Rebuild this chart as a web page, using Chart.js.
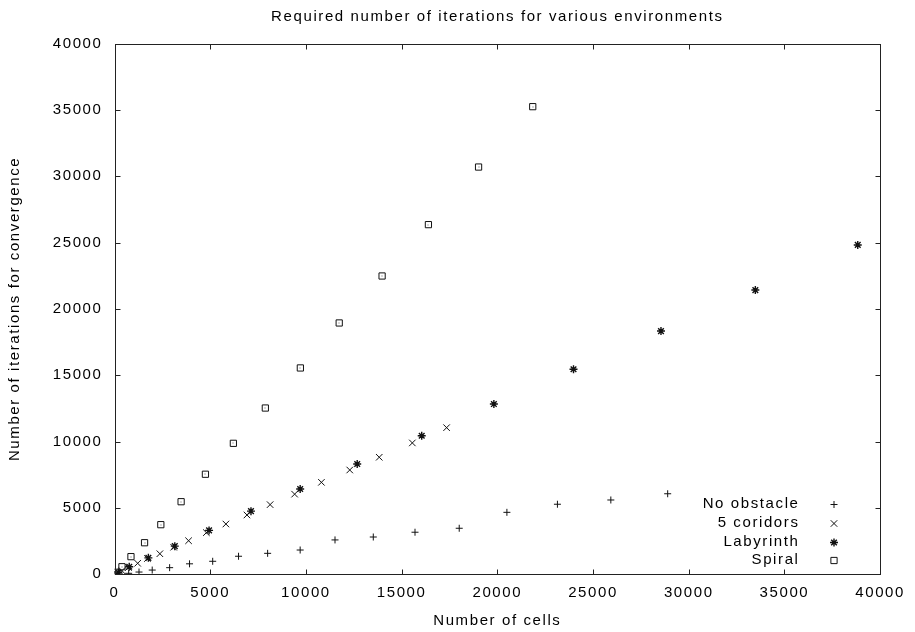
<!DOCTYPE html>
<html><head><meta charset="utf-8">
<script src="https://cdn.jsdelivr.net/npm/chart.js@4/dist/chart.umd.min.js"></script>
<style>html,body{margin:0;padding:0;background:#fff;overflow:hidden}#wrap{width:915px;height:632px;position:relative}</style>
</head><body><div id="wrap"><canvas id="c"></canvas></div>
<script>
const chartTitle = 'Required number of iterations for various environments';
const xTitle = 'Number of cells';
const yTitle = 'Number of iterations for convergence';
const seriesNames = ['No obstacle', '5 coridors', 'Labyrinth', 'Spiral'];

const noObstacleX = [250, 740, 1280, 1970, 2880, 3920, 5130, 6480, 8000, 9700, 11520, 13520, 15700, 18010, 20500, 23140, 25930, 28900];
const noObstacleY = [30, 75, 170, 320, 500, 790, 980, 1360, 1580, 1830, 2590, 2810, 3170, 3470, 4670, 5280, 5600, 6070];

const corridorsX = [100, 390, 730, 1210, 1720, 2370, 3090, 3870, 4800, 5820, 6920, 8130, 9410, 10810, 12290, 13830, 15560, 17350];
const corridorsY = [70, 270, 510, 830, 1190, 1550, 2040, 2530, 3140, 3790, 4470, 5250, 6040, 6930, 7860, 8820, 9900, 11050];

const labyrinthX = [60, 200, 770, 1770, 3150, 4940, 7130, 9700, 12680, 16050, 19820, 23980, 28550, 33480, 38830];
const labyrinthY = [50, 130, 570, 1240, 2120, 3310, 4760, 6430, 8310, 10440, 12830, 15450, 18330, 21420, 24820];

const spiralX = [90, 390, 860, 1570, 2420, 3480, 4750, 6210, 7880, 9710, 11740, 13980, 16400, 19020, 21850];
const spiralY = [150, 570, 1330, 2380, 3740, 5470, 7540, 9870, 12530, 15550, 18940, 22480, 26350, 30690, 35240];

const axisMin = 0, axisMax = 40000, tickStep = 5000;

const FAMILY = "'Liberation Sans', Arial, Helvetica, sans-serif";
const FONT = {family: FAMILY, size: 15, weight: 'normal'};
const LS = '1.6px';

function toPoints(xs, ys) { return xs.map((x, i) => ({x: x, y: ys[i]})); }

const gnuplotStyle = {
  id: 'gnuplotStyle',
  beforeLayout(chart) { chart.ctx.letterSpacing = LS; },
  beforeDraw(chart) {
    const ctx = chart.ctx;
    ctx.letterSpacing = LS;
    ctx.save();
    ctx.fillStyle = '#fff';
    ctx.fillRect(0, 0, chart.width, chart.height);
    ctx.restore();
  },
  afterDatasetsDraw(chart) {
    const ctx = chart.ctx;
    ctx.save();
    ctx.fillStyle = '#666';
    chart.data.datasets.forEach((ds, i) => {
      if (ds.pointStyle !== 'rect') return;
      chart.getDatasetMeta(i).data.forEach(pt => {
        ctx.fillRect(Math.round(pt.x) - 0.5, Math.round(pt.y) - 0.5, 1, 1);
      });
    });
    ctx.restore();
  },
  afterDraw(chart) {
    const ctx = chart.ctx;
    const a = chart.chartArea;
    const xs = chart.scales.x, ys = chart.scales.y;
    const L = Math.round(a.left) + 0.5, R = Math.round(a.right) + 0.5;
    const T = Math.round(a.top) + 0.5, B = Math.round(a.bottom) + 0.5;
    const tl = 5;
    ctx.save();
    ctx.strokeStyle = '#222';
    ctx.lineWidth = 1;
    ctx.beginPath();
    xs.ticks.forEach(t => {
      const p = Math.round(xs.getPixelForValue(t.value)) + 0.5;
      ctx.moveTo(p, B); ctx.lineTo(p, B - tl);
      ctx.moveTo(p, T); ctx.lineTo(p, T + tl);
    });
    ys.ticks.forEach(t => {
      const p = Math.round(ys.getPixelForValue(t.value)) + 0.5;
      ctx.moveTo(L, p); ctx.lineTo(L + tl, p);
      ctx.moveTo(R, p); ctx.lineTo(R - tl, p);
    });
    ctx.stroke();
    ctx.strokeRect(L, T, R - L, B - T);

    // legend (inside plot, bottom right, text left of marker)
    const textRight = 799.5, markerX = 834, firstRow = 504.3, rowStep = 18.67;
    ctx.font = '15px ' + FAMILY;
    ctx.letterSpacing = LS;
    ctx.textAlign = 'right';
    ctx.textBaseline = 'middle';
    chart.data.datasets.forEach((ds, i) => {
      const y = firstRow + i * rowStep;
      ctx.fillStyle = '#000';
      ctx.fillText(ds.label, textRight, y);
      ctx.strokeStyle = ds.borderColor;
      ctx.fillStyle = ds.backgroundColor;
      ctx.lineWidth = ds.pointBorderWidth;
      Chart.helpers.drawPoint(ctx, {pointStyle: ds.pointStyle, radius: ds.pointRadius, borderWidth: ds.pointBorderWidth, rotation: 0}, markerX, Math.round(y) + 0.5);
    });
    ctx.restore();
    ctx.letterSpacing = LS;
  }
};

function ds(label, xs, ys, style, radius, bw, fill) {
  return {
    label: label,
    data: toPoints(xs, ys),
    showLine: false,
    pointStyle: style,
    pointRadius: radius,
    pointHoverRadius: radius,
    pointBorderWidth: bw,
    borderColor: '#111',
    backgroundColor: fill
  };
}

new Chart(document.getElementById('c'), {
  type: 'scatter',
  data: {
    datasets: [
      ds(seriesNames[0], noObstacleX, noObstacleY, 'cross', 3.5, 1, '#111'),
      ds(seriesNames[1], corridorsX, corridorsY, 'crossRot', 4.6, 1, '#111'),
      ds(seriesNames[2], labyrinthX, labyrinthY, 'star', 4, 1.4, '#111'),
      ds(seriesNames[3], spiralX, spiralY, 'rect', 4.4, 1, 'rgba(0,0,0,0)')
    ]
  },
  options: {
    responsive: true,
    maintainAspectRatio: false,
    animation: false,
    events: [],
    layout: {padding: {left: 0, right: 32.3, top: 0, bottom: 0}},
    plugins: {
      legend: {display: false},
      tooltip: {enabled: false},
      title: {
        display: true,
        text: chartTitle,
        fullSize: false,
        color: '#000',
        font: FONT,
        padding: {top: 8, bottom: 17.5}
      }
    },
    scales: {
      x: {
        type: 'linear',
        position: 'bottom',
        min: axisMin,
        max: axisMax,
        grid: {display: false, drawTicks: false},
        border: {display: false},
        ticks: {stepSize: tickStep, color: '#000', font: FONT, padding: 10, maxRotation: 0, autoSkip: false, callback: v => String(v)},
        title: {display: true, text: xTitle, color: '#000', font: FONT, padding: {top: 2, bottom: 2}},
        afterFit(s) { s.height = 57.7; }
      },
      y: {
        type: 'linear',
        position: 'left',
        min: axisMin,
        max: axisMax,
        grid: {display: false, drawTicks: false},
        border: {display: false},
        ticks: {stepSize: tickStep, color: '#000', font: FONT, padding: 12, autoSkip: false, callback: v => String(v)},
        title: {display: true, text: yTitle, color: '#000', font: FONT, padding: {top: 6, bottom: 6}},
        afterFit(s) { s.width = 114.5; }
      }
    }
  },
  plugins: [gnuplotStyle]
});
</script>
</body></html>
